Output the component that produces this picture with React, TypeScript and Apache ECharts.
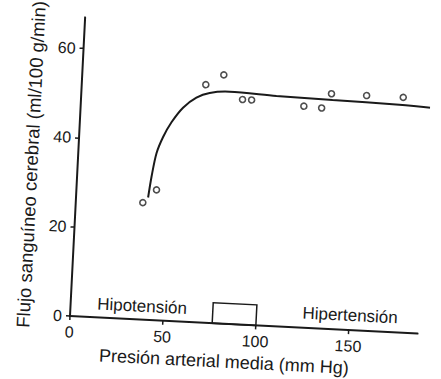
import React, { useEffect, useRef } from "react";
import * as echarts from "echarts";

// Autoregulation curve (mean arterial pressure, mm Hg -> cerebral blood flow, ml/100 g/min)
const curvePressure = [38.7, 40.0, 42.0, 45.1, 49.2, 55.0, 61.9, 68.9, 79.6, 104.8, 135, 171, 192];
const curveFlow = [27.4, 32.2, 37.4, 41.1, 44.5, 47.9, 50.3, 51.5, 52.0, 51.6, 51.3, 51.0, 50.6];

// Measured points
const pointPressure = [36, 43, 66.6, 76, 86.7, 91.6, 119.8, 129.4, 134.3, 153.2, 172.9];
const pointFlow = [26.2, 29.2, 53.3, 55.7, 50.4, 50.4, 49.6, 49.4, 52.7, 52.7, 52.7];

// Axes
const xTicks = [0, 50, 100, 150];
const yTicks = [0, 20, 40, 60];
const xName = "Presión arterial media (mm Hg)";
const yName = "Flujo sanguíneo cerebral (ml/100 g/min)";

// Annotations
const regionNames = ["Hipotensión", "Hipertensión"];
const regionPressure = [38.4, 150.3];
const regionFlow = [3.0, 3.3];
const normalRange = [76.5, 100];
const normalBoxHeight = 4.6;

const FONT = "'Liberation Sans', Arial, sans-serif";
const INK = "#1a1a1a";

export default function App() {
  const ref = useRef<HTMLDivElement>(null);

  useEffect(() => {
    if (!ref.current) return;
    const chart = echarts.init(ref.current, null, { renderer: "svg" });
    const option: any = {
      animation: false,
      backgroundColor: "#ffffff",
      grid: { left: 70, right: 23, top: 11, bottom: 63, containLabel: false },
      xAxis: {
        type: "value",
        min: 0,
        max: 187,
        interval: 50,
        name: xName,
        nameLocation: "middle",
        nameGap: 20,
        nameTextStyle: { fontFamily: FONT, fontSize: 18, color: INK, padding: [0, 36, 0, 0] },
        axisLine: { show: true, onZero: false, lineStyle: { color: INK, width: 2 } },
        axisTick: { show: true, length: 4, customValues: xTicks, lineStyle: { color: INK, width: 1.5 } },
        axisLabel: { fontFamily: FONT, fontSize: 16, color: INK, margin: 8, customValues: xTicks },
        splitLine: { show: false },
      },
      yAxis: {
        type: "value",
        min: 0,
        max: 67,
        interval: 20,
        name: yName,
        nameLocation: "middle",
        nameGap: 37,
        nameTextStyle: { fontFamily: FONT, fontSize: 18.5, color: INK },
        axisLine: { show: true, onZero: false, lineStyle: { color: INK, width: 2 } },
        axisTick: { show: true, length: 4, customValues: yTicks, lineStyle: { color: INK, width: 1.5 } },
        axisLabel: { fontFamily: FONT, fontSize: 16, color: INK, margin: 8, customValues: yTicks },
        splitLine: { show: false },
      },
      series: [
        {
          type: "line",
          data: curvePressure.map((p, i) => [p, curveFlow[i]]),
          showSymbol: false,
          smooth: 0.3,
          clip: false,
          lineStyle: { color: INK, width: 2 },
          silent: true,
        },
        {
          type: "scatter",
          data: pointPressure.map((p, i) => [p, pointFlow[i]]),
          symbol: "circle",
          symbolSize: 6,
          itemStyle: { color: "#ffffff", borderColor: "#222", borderWidth: 1.6 },
          silent: true,
          markArea: {
            silent: true,
            itemStyle: { color: "rgba(0,0,0,0)", borderColor: INK, borderWidth: 1.5 },
            data: [[{ coord: [normalRange[0], 0] }, { coord: [normalRange[1], normalBoxHeight] }]],
          },
          markPoint: {
            silent: true,
            symbol: "circle",
            symbolSize: 0,
            label: {
              show: true,
              position: "inside",
              fontFamily: FONT,
              fontSize: 17,
              color: INK,
            },
            data: regionNames.map((n, i) => ({
              coord: [regionPressure[i], regionFlow[i]],
              value: n,
              label: { formatter: n },
            })),
          },
        },
      ],
    };
    chart.setOption(option);
    return () => chart.dispose();
  }, []);

  return (
    <div
      style={{
        position: "fixed",
        left: 0,
        top: 0,
        width: 441,
        height: 379,
        overflow: "hidden",
        background: "#ffffff",
      }}
    >
      <div
        ref={ref}
        style={{
          width: 441,
          height: 379,
          transform: "rotate(2.9deg)",
          transformOrigin: "70px 316px",
        }}
      />
    </div>
  );
}
